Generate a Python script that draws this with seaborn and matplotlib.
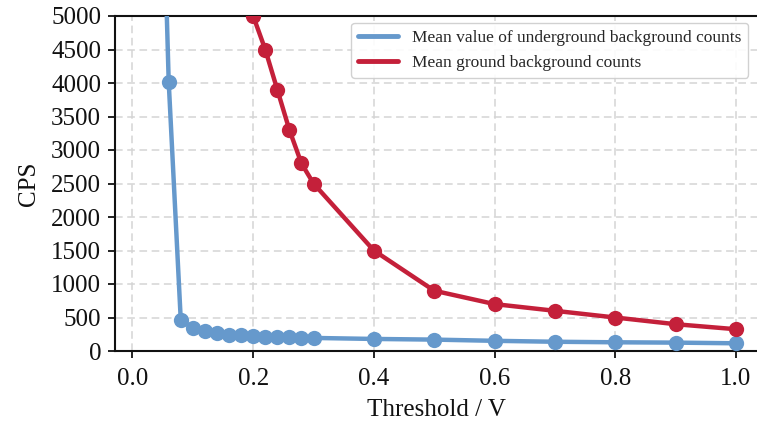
import matplotlib
matplotlib.use("Agg")
import matplotlib.pyplot as plt
import seaborn as sns
import pandas as pd

# ---- data ----
under_x = [0.04, 0.06, 0.08, 0.10, 0.12, 0.14, 0.16, 0.18, 0.20, 0.22, 0.24, 0.26, 0.28, 0.30,
           0.4, 0.5, 0.6, 0.7, 0.8, 0.9, 1.0]
under_y = [10300, 4020, 460, 345, 295, 262, 245, 235, 225, 215, 210, 205, 200, 195,
           180, 170, 152, 138, 130, 125, 115]
ground_x = [0.20, 0.22, 0.24, 0.26, 0.28, 0.30, 0.4, 0.5, 0.6, 0.7, 0.8, 0.9, 1.0]
ground_y = [5000, 4500, 3900, 3300, 2800, 2500, 1500, 900, 700, 600, 500, 400, 325]
labels = ["Mean value of underground background counts", "Mean ground background counts"]
x_ticks = [0.0, 0.2, 0.4, 0.6, 0.8, 1.0]
y_ticks = list(range(0, 5001, 500))

sns.set_theme(style="ticks")
plt.rcParams['font.family'] = ['Liberation Serif', 'DejaVu Serif']
plt.rcParams['mathtext.fontset'] = 'stix'

blue = "#6699CC"
red = "#C4203A"

fig = plt.figure(figsize=(7.57, 4.26), dpi=100)
ax = fig.add_axes([115/757, 75/426, 642/757, 335/426])

df_u = pd.DataFrame({"x": under_x, "y": under_y})
df_g = pd.DataFrame({"x": ground_x, "y": ground_y})
sns.lineplot(data=df_u, x="x", y="y", ax=ax, color=blue, lw=3.2, marker="o",
             markersize=11, markeredgewidth=0, label=labels[0], zorder=3)
sns.lineplot(data=df_g, x="x", y="y", ax=ax, color=red, lw=3.2, marker="o",
             markersize=11, markeredgewidth=0, label=labels[1], zorder=4)

ax.set_xlim(-0.029, 1.035)
ax.set_ylim(0, 5000)
ax.set_xticks(x_ticks)
ax.set_xticklabels([f"{v:.1f}" for v in x_ticks])
ax.set_yticks(y_ticks)
ax.grid(True, ls=(0, (5, 3)), color="#d4d4d4", lw=1.1, zorder=0)
ax.set_axisbelow(True)

for s in ["left", "bottom", "top"]:
    ax.spines[s].set_color("#111111")
    ax.spines[s].set_linewidth(1.5)
ax.spines["right"].set_visible(False)
ax.tick_params(axis="both", labelsize=18, length=5, width=1.3, color="#111111",
               direction="out", labelcolor="#111111")
ax.tick_params(axis="x", pad=7)
ax.tick_params(axis="y", pad=5)

ax.set_xlabel("Threshold / V", fontsize=18, color="#111111", labelpad=7)
ax.set_ylabel("CPS", fontsize=18, color="#111111", labelpad=8)

leg = ax.legend(loc="upper right", fontsize=12.5, frameon=True, framealpha=0.9,
                edgecolor="#cccccc", handlelength=2.3, borderaxespad=0.4,
                bbox_to_anchor=(0.997, 1.0))
for h in leg.legend_handles:
    h.set_marker("")
    h.set_linewidth(3.5)

fig.savefig("out.png", dpi=100)
